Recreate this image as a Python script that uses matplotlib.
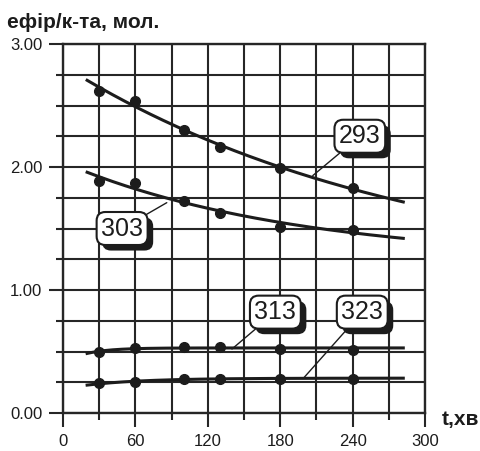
import matplotlib
matplotlib.use('Agg')
import numpy as np
import matplotlib.pyplot as plt
import matplotlib.patheffects as pe

#--- data ---#
t = [30, 60, 100, 130, 180, 240]
y293 = [2.62, 2.54, 2.30, 2.16, 1.99, 1.83]
y303 = [1.89, 1.87, 1.72, 1.63, 1.51, 1.49]
y313 = [0.50, 0.53, 0.54, 0.54, 0.52, 0.51]
y323 = [0.24, 0.25, 0.28, 0.28, 0.28, 0.28]
series = [('293', y293), ('303', y303), ('313', y313), ('323', y323)]
#--- label placement: (text x, text y, target x, target y) ---#
labels = {'293': (246, 2.25, 207, 1.93),
          '303': (49, 1.50, 86, 1.71),
          '313': (176, 0.82, 140, 0.52),
          '323': (248, 0.82, 199, 0.28)}

ink = '#1c1c1c'
plt.rcParams['font.family'] = ['Liberation Sans', 'DejaVu Sans']

def expFit(x, y):
    #--- y = a + b*exp(-k x), k by grid search ---#
    x = np.asarray(x, float)
    y = np.asarray(y, float)
    best = None
    for k in np.linspace(0.0005, 0.05, 400):
        X = np.column_stack([np.ones_like(x), np.exp(-k*x)])
        coef, res, _, _ = np.linalg.lstsq(X, y, rcond=None)
        err = np.sum((X @ coef - y)**2)
        if best is None or err < best[0]:
            best = (err, k, coef)
    _, k, (a, b) = best
    return(lambda z: a + b*np.exp(-k*z))

fig = plt.figure(figsize=(4.8, 4.51), dpi=100)
ax = fig.add_axes([63/480, 38/451, 362/480, 369/451])
ax.set_xlim(0, 300)
ax.set_ylim(0, 3)
ax.set_xticks(np.arange(0, 301, 60))
ax.set_xticks(np.arange(30, 300, 60), minor=True)
ax.set_yticks(np.arange(0, 3.01, 1.0))
ax.set_yticks(np.arange(0.25, 3, 0.25), minor=True)
ax.set_yticklabels(['%.2f' % v for v in np.arange(0, 3.01, 1.0)])
ax.grid(True, which='both', color='#262626', linewidth=1.5)
ax.tick_params(which='major', direction='out', length=10, width=1.5, color='#262626',
               labelsize=12, labelcolor=ink, pad=5)
ax.tick_params(which='minor', direction='out', length=5, width=1.5, color='#262626')
for s in ax.spines.values():
    s.set_color('#262626')
    s.set_linewidth(1.7)

tt = np.linspace(20, 282, 200)
for name, y in series:
    f = expFit(t, y)   #smooth trend through the points
    ax.plot(tt, f(tt), color=ink, linewidth=2.2, zorder=3)
    ax.plot(t, y, 'o', color=ink, markersize=7, zorder=4)

for name, (lx, ly, px, py) in labels.items():
    a = ax.annotate(name, xy=(px, py), xytext=(lx, ly), ha='center', va='center',
                    fontsize=18, color=ink, zorder=6,
                    family=['Liberation Sans Narrow', 'Liberation Sans'],
                    bbox=dict(boxstyle='round,pad=0.18,rounding_size=0.35', fc='white',
                              ec=ink, lw=1.5),
                    arrowprops=dict(arrowstyle='-', color=ink, lw=1.0,
                                    shrinkA=0, shrinkB=0))
    a.get_bbox_patch().set_path_effects([
        pe.SimplePatchShadow(offset=(4, -4), shadow_rgbFace=ink, alpha=1.0),
        pe.Normal()])

fig.text(7/480, 1 - 28/451, 'ефір/к-та, мол.', fontsize=15, fontweight='bold',
         color=ink, ha='left', va='baseline')
fig.text(442/480, 1 - 420/451, 't,хв', fontsize=15, fontweight='bold',
         color=ink, ha='left', va='center')

fig.savefig('out.png', dpi=100, facecolor='white')
